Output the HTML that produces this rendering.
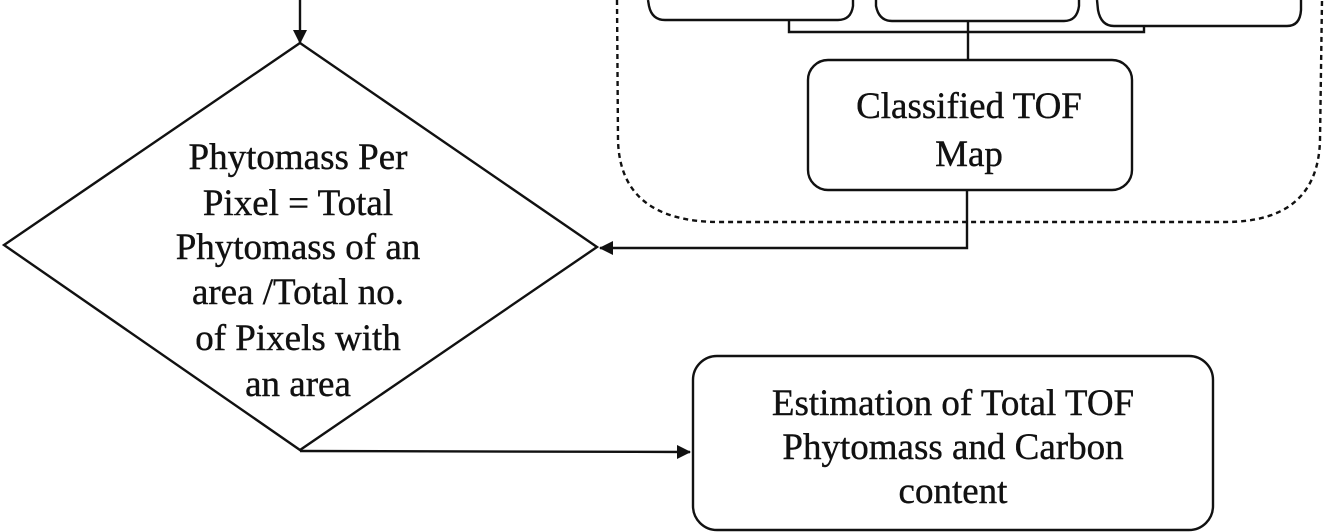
<!DOCTYPE html>
<html><head><meta charset="utf-8"><style>
html,body{margin:0;padding:0;background:#fff;}
svg{display:block;}
text{font-family:"Liberation Serif",serif;font-size:37px;fill:#111;text-anchor:middle;stroke:#111;stroke-width:0.4;}
</style></head><body>
<svg width="1326" height="532" viewBox="0 0 1326 532" xmlns="http://www.w3.org/2000/svg">
<defs>
<marker id="ar" markerWidth="14" markerHeight="14" refX="13" refY="7" orient="auto" markerUnits="userSpaceOnUse">
<path d="M0,0 L14,7 L0,14 Z" fill="#111"/>
</marker>
</defs>
<g stroke="#111" fill="none" stroke-width="2.4">
<path d="M617,0 L618,140 Q620,222 720,222 L1225,222 Q1318,222 1320,140 L1322,0" stroke-dasharray="5,4"/>
<path d="M648,0 L649,6 Q652,20 665,20 L838,20 Q851,20 853,6 L853,0"/>
<path d="M876,0 L876,6 Q879,21 892,21 L1064,21 Q1077,21 1079,6 L1079,0"/>
<path d="M1097,0 L1098,10 Q1101,26 1114,26 L1287,26 Q1300,26 1301,10 L1301,0"/>
<path d="M789,20 L789,32 L1144,32 L1144,26"/>
<path d="M968,21 L968,60"/>
<rect x="808" y="60" width="324" height="130" rx="20"/>
<path d="M967,190 L967,248 L600,248" marker-end="url(#ar)"/>
<path d="M300,43 L597,247 L300,450 L4,245 Z"/>
<path d="M300,0 L300,43" marker-end="url(#ar)"/>
<path d="M300,451 L690,452" marker-end="url(#ar)"/>
<rect x="693" y="356" width="520" height="174" rx="24"/>
</g>
<text x="969" y="118">Classified TOF</text>
<text x="969" y="166">Map</text>
<text x="298" y="169">Phytomass Per</text>
<text x="298" y="215">Pixel = Total</text>
<text x="298" y="259">Phytomass of an</text>
<text x="298" y="304">area /Total no.</text>
<text x="298" y="350">of Pixels with</text>
<text x="298" y="396">an area</text>
<text x="953" y="415">Estimation of Total TOF</text>
<text x="953" y="459">Phytomass and Carbon</text>
<text x="953" y="503">content</text>
</svg>
</body></html>
